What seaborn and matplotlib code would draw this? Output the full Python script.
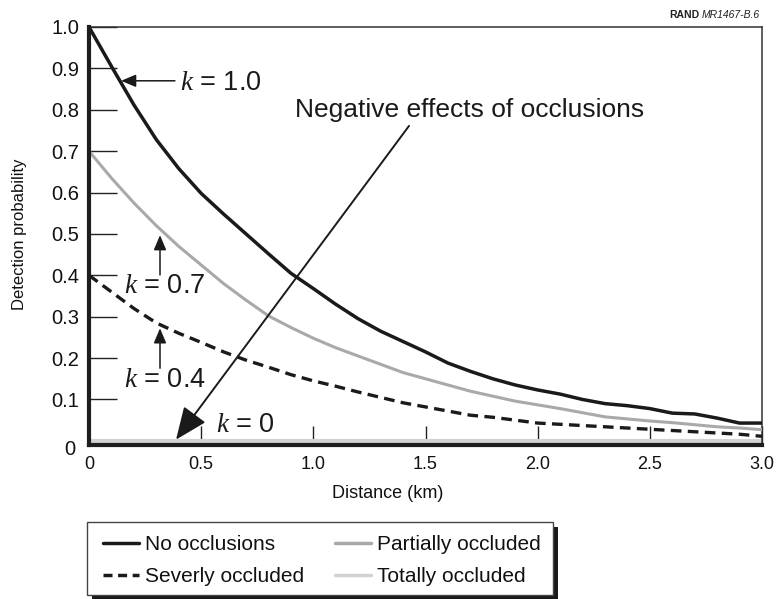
import matplotlib
matplotlib.use("Agg")
import matplotlib.pyplot as plt
import seaborn as sns
import pandas as pd
from matplotlib.lines import Line2D
from matplotlib.patches import Rectangle
import matplotlib.transforms as mtrans

# ---------------- data ----------------
distance = [0.0, 0.1, 0.2, 0.3, 0.4, 0.5, 0.6, 0.7, 0.8, 0.9, 1.0,
            1.1, 1.2, 1.3, 1.4, 1.5, 1.6, 1.7, 1.8, 1.9, 2.0,
            2.1, 2.2, 2.3, 2.4, 2.5, 2.6, 2.7, 2.8, 2.9, 3.0]
no_occlusions = [1.00, 0.905, 0.812, 0.728, 0.658, 0.598, 0.548, 0.50, 0.452, 0.405, 0.368,
                 0.33, 0.295, 0.265, 0.24, 0.215, 0.188, 0.168, 0.15, 0.135, 0.123,
                 0.113, 0.10, 0.09, 0.085, 0.078, 0.067, 0.065, 0.055, 0.043, 0.043]
partially = [0.70, 0.635, 0.575, 0.52, 0.47, 0.425, 0.38, 0.34, 0.302, 0.274, 0.248,
             0.225, 0.205, 0.185, 0.165, 0.15, 0.135, 0.12, 0.108, 0.096, 0.087,
             0.078, 0.068, 0.058, 0.053, 0.048, 0.044, 0.039, 0.034, 0.031, 0.027]
severely = [0.40, 0.36, 0.32, 0.285, 0.26, 0.238, 0.215, 0.195, 0.178, 0.16, 0.145,
            0.132, 0.118, 0.105, 0.092, 0.082, 0.072, 0.062, 0.057, 0.05, 0.043,
            0.040, 0.037, 0.034, 0.031, 0.028, 0.025, 0.022, 0.019, 0.016, 0.011]
totally = [0.0, 0.0, 0.0, 0.0, 0.0, 0.0, 0.0, 0.0, 0.0, 0.0, 0.0,
           0.0, 0.0, 0.0, 0.0, 0.0, 0.0, 0.0, 0.0, 0.0, 0.0,
           0.0, 0.0, 0.0, 0.0, 0.0, 0.0, 0.0, 0.0, 0.0, 0.0]
series_labels = ["No occlusions", "Severly occluded", "Partially occluded", "Totally occluded"]
x_ticks = [0, 0.5, 1.0, 1.5, 2.0, 2.5, 3.0]
x_tick_labels = ["0", "0.5", "1.0", "1.5", "2.0", "2.5", "3.0"]
y_ticks = [0, 0.1, 0.2, 0.3, 0.4, 0.5, 0.6, 0.7, 0.8, 0.9, 1.0]
y_tick_labels = ["0", "0.1", "0.2", "0.3", "0.4", "0.5", "0.6", "0.7", "0.8", "0.9", "1.0"]

# ---------------- style ----------------
sns.set_theme(style="white")
plt.rcParams["font.family"] = ["Liberation Sans", "DejaVu Sans"]
plt.rcParams["mathtext.fontset"] = "custom"
plt.rcParams["mathtext.it"] = "Liberation Serif:italic"
plt.rcParams["mathtext.rm"] = "Liberation Sans"

W, H = 779, 599
fig = plt.figure(figsize=(W / 100, H / 100), dpi=100)
fig.patch.set_facecolor("white")
ax = fig.add_axes([89 / W, 1 - 445 / H, (762 - 89) / W, (445 - 27) / H])
ax.set_facecolor("white")

df = pd.DataFrame({"d": distance, "no": no_occlusions, "part": partially,
                   "sev": severely, "tot": totally})

sns.lineplot(data=df, x="d", y="tot", ax=ax, color="#d2d2d2", lw=3.0,
             estimator=None, sort=False, zorder=2)
sns.lineplot(data=df, x="d", y="sev", ax=ax, color="#1a1a1a", lw=2.4,
             estimator=None, sort=False, zorder=3)
ax.lines[-1].set_dashes([3.2, 1.9])
sns.lineplot(data=df, x="d", y="part", ax=ax, color="#a9a9a9", lw=2.2,
             estimator=None, sort=False, zorder=3)
sns.lineplot(data=df, x="d", y="no", ax=ax, color="#1a1a1a", lw=2.5,
             estimator=None, sort=False, zorder=4)

ax.set_xlim(0, 3.0)
ax.set_ylim(-0.01, 1.0)
ax.set_xticks(x_ticks)
ax.set_xticklabels(x_tick_labels, fontsize=13)
ax.set_yticks(y_ticks)
ax.set_yticklabels(y_tick_labels, fontsize=14.5)
ax.set_xlabel("")
ax.set_ylabel("")
ax.tick_params(axis="y", direction="in", length=20, width=1.0, color="#222222",
               pad=7, labelcolor="#111111", left=True)
ax.tick_params(axis="x", direction="in", length=14, width=1.0, color="#222222",
               pad=8, labelcolor="#111111", bottom=True)

for side in ["left", "bottom"]:
    ax.spines[side].set_linewidth(3.0)
    ax.spines[side].set_color("#1e1e1e")
    ax.spines[side].set_zorder(6)
for side in ["top", "right"]:
    ax.spines[side].set_linewidth(1.1)
    ax.spines[side].set_color("#333333")

# lower the origin "0" label a bit like the reference
for lab in ax.get_yticklabels():
    if lab.get_text() == "0":
        lab.set_transform(lab.get_transform() +
                          mtrans.ScaledTranslation(-3 / 72, -5 / 72, fig.dpi_scale_trans))

# ---------------- annotations ----------------
small_arrow = dict(arrowstyle="-|>,head_length=0.9,head_width=0.38", color="#1a1a1a",
                   lw=1.1, shrinkA=0, shrinkB=0, mutation_scale=10)
ax.annotate("", xy=(0.143, 0.870), xytext=(0.383, 0.870), arrowprops=small_arrow)
ax.text(0.405, 0.847, "$k$ = 1.0", fontsize=19.5, color="#1a1a1a", va="baseline", ha="left")

ax.annotate("", xy=(0.3165, 0.497), xytext=(0.3165, 0.401), arrowprops=small_arrow)
ax.text(0.155, 0.357, "$k$ = 0.7", fontsize=19.5, color="#1a1a1a", va="baseline", ha="left")

ax.annotate("", xy=(0.3165, 0.272), xytext=(0.3165, 0.1755), arrowprops=small_arrow)
ax.text(0.155, 0.131, "$k$ = 0.4", fontsize=19.5, color="#1a1a1a", va="baseline", ha="left")

ax.text(0.568, 0.0225, "$k$ = 0", fontsize=19.5, color="#1a1a1a", va="baseline", ha="left")

big_arrow = dict(arrowstyle="-|>,head_length=1.0,head_width=0.42", color="#1a1a1a",
                 lw=1.4, shrinkA=0, shrinkB=0, mutation_scale=20)
ax.annotate("", xy=(0.388, 0.003), xytext=(1.4265, 0.761), arrowprops=big_arrow,
            annotation_clip=False)
ax.text(0.918, 0.783, "Negative effects of occlusions", fontsize=19, color="#1a1a1a",
        va="baseline", ha="left")

# ---------------- axis titles ----------------
fig.text(388 / W, 1 - 494 / H, "Distance (km)", fontsize=13, ha="center", va="center",
         color="#111111")
fig.text(20 / W, 1 - 234 / H, "Detection probability", fontsize=12, ha="center",
         va="center", rotation=90, color="#111111")

# ---------------- RAND id ----------------
t_id = fig.text(760 / W, 1 - 15 / H, "MR1467-B.6", fontsize=7.5, style="italic",
                ha="right", va="center", color="#222222")
fig.canvas.draw()
bb = t_id.get_window_extent()
fig.text((bb.x0 - 3) / W, 1 - 15 / H, "RAND", fontsize=7.5, weight="bold",
         ha="right", va="center", color="#222222")

# ---------------- legend ----------------
bx0, bx1, by0, by1 = 87, 553, 522, 595
fig.patches.append(Rectangle(((bx0 + 5) / W, 1 - (by1 + 5) / H), (bx1 - bx0) / W,
                             (by1 - by0) / H, transform=fig.transFigure,
                             facecolor="#1a1a1a", edgecolor="none", zorder=1))
fig.patches.append(Rectangle((bx0 / W, 1 - by1 / H), (bx1 - bx0) / W, (by1 - by0) / H,
                             transform=fig.transFigure, facecolor="white",
                             edgecolor="#444444", lw=1.0, zorder=2))

handles = [
    Line2D([], [], color="#1a1a1a", lw=2.5),
    Line2D([], [], color="#1a1a1a", lw=2.5, dashes=[2.6, 1.6]),
    Line2D([], [], color="#a9a9a9", lw=2.5),
    Line2D([], [], color="#d2d2d2", lw=2.5),
]
leg = fig.legend(handles, series_labels, ncol=2, loc="upper left",
                 bbox_to_anchor=(103 / W, 1 - 535 / H), frameon=False,
                 borderpad=0, borderaxespad=0, handlelength=1.75, handletextpad=0.25,
                 columnspacing=1.5, labelspacing=0.62, fontsize=15)
for txt in leg.get_texts():
    txt.set_color("#111111")
leg.set_zorder(5)

fig.savefig("out.png", dpi=100, facecolor="white")
